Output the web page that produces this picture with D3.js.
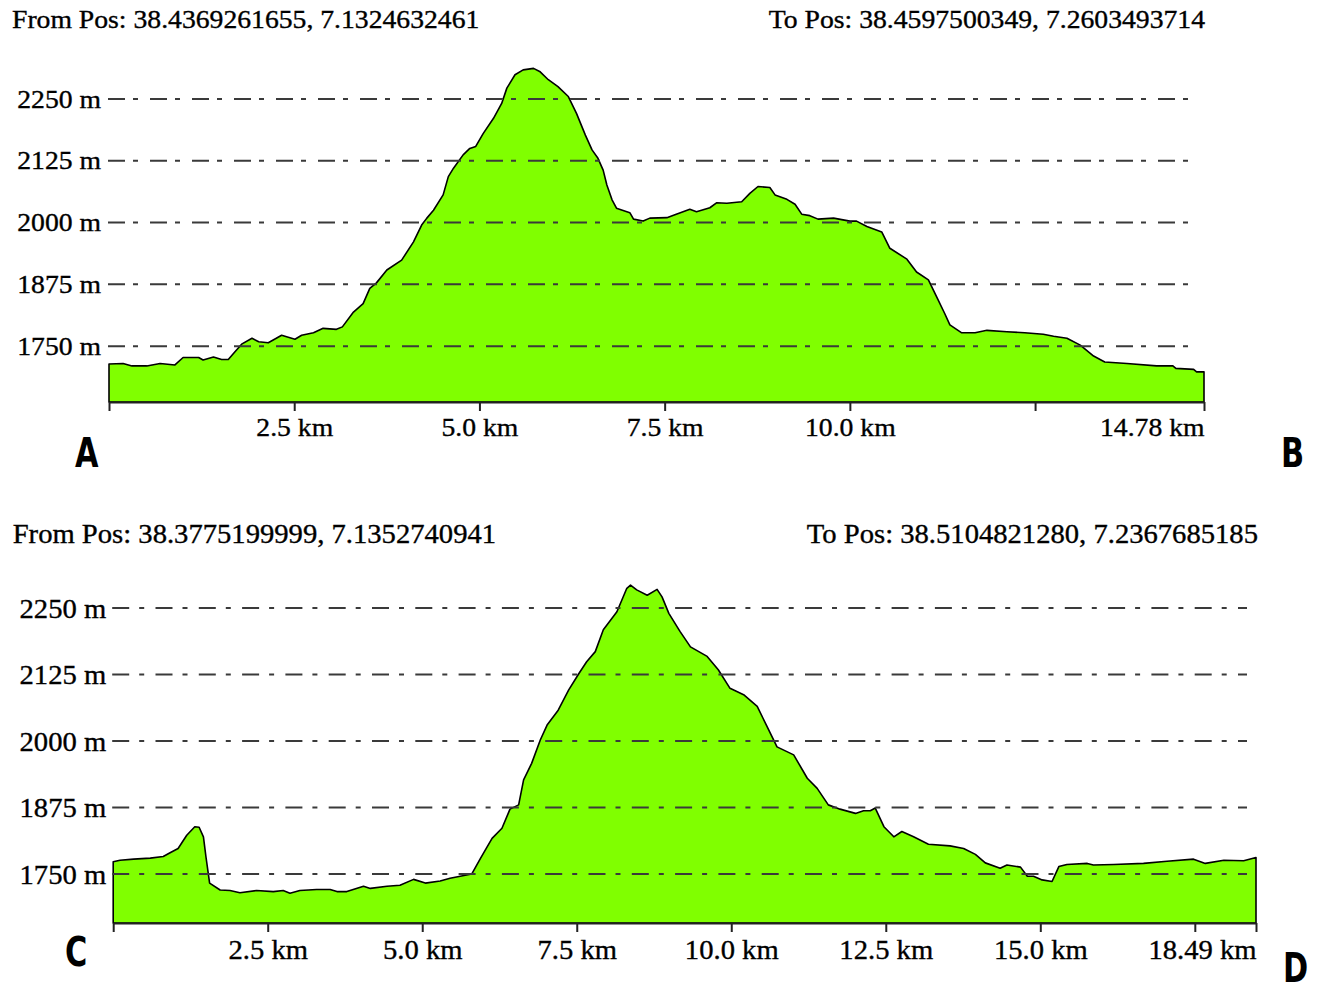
<!DOCTYPE html>
<html><head><meta charset="utf-8">
<script src="https://cdn.jsdelivr.net/npm/d3@7"></script>
<style>body{margin:0;background:#fff}svg{display:block}</style></head>
<body>
<svg id="c" width="1317" height="985"></svg>
<script>
// ---------- DATA ----------
const topFrom = "From Pos: 38.4369261655, 7.1324632461";
const topTo = "To Pos: 38.4597500349, 7.2603493714";
const topKm = [0.00,0.19,0.31,0.51,0.69,0.89,1.00,1.21,1.27,1.41,
  1.52,1.61,1.68,1.79,1.93,2.02,2.15,2.33,2.51,2.60,
  2.76,2.89,3.07,3.15,3.30,3.43,3.52,3.61,3.75,3.95,
  4.11,4.22,4.29,4.38,4.51,4.58,4.65,4.78,4.87,4.95,
  5.05,5.19,5.30,5.37,5.48,5.59,5.73,5.82,5.93,6.06,
  6.20,6.31,6.43,6.52,6.60,6.67,6.72,6.79,6.85,7.03,
  7.08,7.21,7.30,7.53,7.62,7.84,7.93,8.11,8.20,8.34,
  8.54,8.65,8.76,8.92,8.99,9.15,9.26,9.35,9.46,9.57,
  9.78,10.00,10.09,10.23,10.43,10.54,10.77,10.90,11.06,11.17,
  11.28,11.35,11.51,11.69,11.85,12.12,12.36,12.61,12.75,12.93,
  13.11,13.29,13.44,13.74,14.14,14.36,14.40,14.64,14.68,14.78];
const topElev = [1714,1715,1710,1710,1715,1712,1727,1727,1722,1728,
  1723,1723,1735,1754,1766,1759,1757,1772,1764,1772,
  1777,1786,1784,1789,1819,1836,1867,1878,1904,1924,
  1961,1995,2009,2025,2056,2093,2110,2137,2150,2154,
  2180,2211,2241,2272,2299,2309,2312,2305,2289,2275,
  2255,2221,2177,2147,2130,2106,2076,2046,2029,2020,
  2007,2003,2009,2010,2015,2027,2022,2030,2040,2039,
  2042,2059,2073,2071,2056,2047,2037,2017,2014,2007,
  2009,2003,2003,1992,1981,1948,1926,1900,1884,1850,
  1816,1793,1777,1777,1782,1779,1777,1774,1770,1766,
  1752,1730,1718,1715,1710,1710,1705,1703,1698,1698];
const topTicks = [0, 2.5, 5.0, 7.5, 10.0, 12.5, 14.78];
const topTickLabels = ["", "2.5 km", "5.0 km", "7.5 km", "10.0 km", "", "14.78 km"];
const topBaseElev = 1637;   // elevation at the x-axis line

const botFrom = "From Pos: 38.3775199999, 7.1352740941";
const botTo = "To Pos: 38.5104821280, 7.2367685185";
const botKm = [0.00,0.11,0.33,0.60,0.81,0.92,1.05,1.19,1.32,1.39,
  1.46,1.50,1.56,1.73,1.89,2.05,2.32,2.59,2.75,2.86,
  3.02,3.29,3.51,3.62,3.78,4.05,4.16,4.43,4.64,4.86,
  5.05,5.29,5.45,5.80,5.94,6.05,6.13,6.29,6.42,6.56,
  6.64,6.77,6.91,7.02,7.20,7.37,7.53,7.66,7.80,7.93,
  8.15,8.31,8.37,8.47,8.64,8.80,8.88,8.99,9.17,9.34,
  9.61,9.79,9.98,10.20,10.42,10.58,10.74,11.01,11.23,11.39,
  11.57,11.76,12.01,12.14,12.25,12.33,12.47,12.63,12.76,12.95,
  13.19,13.54,13.76,13.95,14.11,14.35,14.46,14.68,14.79,14.89,
  15.03,15.19,15.30,15.43,15.76,15.86,16.19,16.67,17.05,17.48,
  17.67,17.97,18.29,18.49];
const botElev = [1773,1776,1778,1780,1783,1790,1798,1823,1839,1838,
  1820,1783,1733,1720,1719,1715,1719,1717,1719,1714,
  1719,1721,1721,1717,1717,1727,1723,1727,1729,1740,
  1733,1737,1742,1750,1779,1801,1817,1836,1872,1880,
  1927,1958,2002,2030,2058,2096,2126,2149,2168,2209,
  2243,2287,2293,2284,2274,2285,2271,2240,2206,2177,
  2159,2134,2099,2087,2065,2027,1989,1974,1930,1911,
  1880,1872,1864,1869,1869,1874,1839,1820,1830,1820,
  1806,1803,1798,1787,1771,1761,1767,1763,1746,1746,
  1739,1736,1764,1768,1770,1767,1768,1770,1774,1778,
  1770,1776,1775,1781];
const botTicks = [0, 2.5, 5.0, 7.5, 10.0, 12.5, 15.0, 17.5, 18.49];
const botTickLabels = ["", "2.5 km", "5.0 km", "7.5 km", "10.0 km", "12.5 km", "15.0 km", "", "18.49 km"];
const botBaseElev = 1658;

const yTicks = [1750, 1875, 2000, 2125, 2250];
const yTickLabels = ["1750 m", "1875 m", "2000 m", "2125 m", "2250 m"];
const panelLetters = [["A", "B"], ["C", "D"]];

// ---------- DRAWING ----------
const serif = "'Liberation Serif','Times New Roman',serif";
const svg = d3.select("#c");

function stretch(sel, k) {
  sel.each(function () {
    const w = this.getComputedTextLength();
    d3.select(this).attr("textLength", w * k).attr("lengthAdjust", "spacingAndGlyphs");
  });
}
function serifStyle(sel, fs) {
  sel.attr("font-family", serif).attr("font-size", fs).attr("fill", "#000")
    .attr("stroke", "#000").attr("stroke-width", 0.35);
}

function panel(cfg) {
  const g = svg.append("g");
  const x = d3.scaleLinear().domain([0, cfg.km[cfg.km.length - 1]]).range([cfg.left, cfg.right]);
  const y = d3.scaleLinear().domain([cfg.baseElev, yTicks[yTicks.length - 1]]).range([cfg.axisY, cfg.yTop]);
  const pts = cfg.km.map((k, i) => [k, cfg.elev[i]]);

  const area = d3.area().x(d => x(d[0])).y0(y(cfg.baseElev)).y1(d => y(d[1]));
  g.append("path").datum(pts).attr("d", area)
    .attr("fill", "#80ff00").attr("stroke", "#000").attr("stroke-width", 1.6)
    .attr("stroke-linejoin", "round");

  // dash-dot grid
  g.append("g").selectAll("line").data(yTicks).join("line")
    .attr("x1", cfg.left - 1).attr("x2", cfg.gridEnd)
    .attr("y1", d => y(d)).attr("y2", d => y(d))
    .attr("stroke", "#3a3a3a").attr("stroke-width", 2)
    .attr("stroke-dasharray", cfg.dash);

  // y labels
  const ya = g.append("g").attr("transform", `translate(${cfg.left},0)`)
    .call(d3.axisLeft(y).tickValues(yTicks).tickFormat((d, i) => yTickLabels[i]).tickSize(0).tickPadding(cfg.yPad));
  ya.select(".domain").remove();
  serifStyle(ya.selectAll("text"), cfg.fs);
  ya.selectAll("text").attr("dy", cfg.yDy);
  stretch(ya.selectAll("text"), cfg.k);

  // x axis
  const xa = g.append("g").attr("transform", `translate(0,${cfg.axisY})`)
    .call(d3.axisBottom(x).tickValues(cfg.ticks).tickFormat((d, i) => cfg.tickLabels[i])
      .tickSizeInner(9).tickSizeOuter(0));
  xa.select(".domain").attr("stroke", "#222").attr("stroke-width", 2.2);
  xa.selectAll(".tick line").attr("stroke", "#222").attr("stroke-width", 2);
  serifStyle(xa.selectAll("text"), cfg.fs);
  xa.selectAll("text").attr("y", cfg.xLabY).attr("dy", 0);
  xa.selectAll(".tick").filter((d, i) => i === cfg.ticks.length - 1)
    .select("text").attr("text-anchor", "end");
  stretch(xa.selectAll("text"), cfg.k);

  // headers
  const h1 = g.append("text").attr("x", cfg.fromX).attr("y", cfg.headY).text(cfg.from);
  const h2 = g.append("text").attr("x", cfg.toX).attr("y", cfg.headY).attr("text-anchor", "end").text(cfg.to);
  serifStyle(h1, cfg.fs); serifStyle(h2, cfg.fs);
  stretch(h1, cfg.k); stretch(h2, cfg.k);

  // panel letters
  cfg.letters.forEach((L, i) => {
    const t = g.append("text").attr("x", cfg.letterPos[i][0]).attr("y", cfg.letterPos[i][1])
      .attr("font-family", "'DejaVu Sans','Liberation Sans',sans-serif")
      .attr("font-weight", "bold").attr("font-size", 41).attr("fill", "#000").text(L);
    stretch(t, 0.74);
  });
}

panel({
  km: topKm, elev: topElev, ticks: topTicks, tickLabels: topTickLabels, baseElev: topBaseElev,
  from: topFrom, to: topTo, letters: panelLetters[0],
  left: 109, right: 1204, axisY: 402, yTop: 99, gridEnd: 1195, dash: "17,8,5,12",
  fs: 25.5, k: 1.085, yPad: 8, yDy: 8, xLabY: 34, headY: 28, fromX: 12, toX: 1205,
  letterPos: [[75, 467], [1281, 467]]
});
panel({
  km: botKm, elev: botElev, ticks: botTicks, tickLabels: botTickLabels, baseElev: botBaseElev,
  from: botFrom, to: botTo, letters: panelLetters[1],
  left: 113.2, right: 1256, axisY: 923, yTop: 608, gridEnd: 1247, dash: "17,10,5,11.3",
  fs: 26.5, k: 1.08, yPad: 7, yDy: 9.3, xLabY: 36, headY: 543, fromX: 12.7, toX: 1258,
  letterPos: [[65, 966], [1283, 982]]
});
</script>
</body></html>
